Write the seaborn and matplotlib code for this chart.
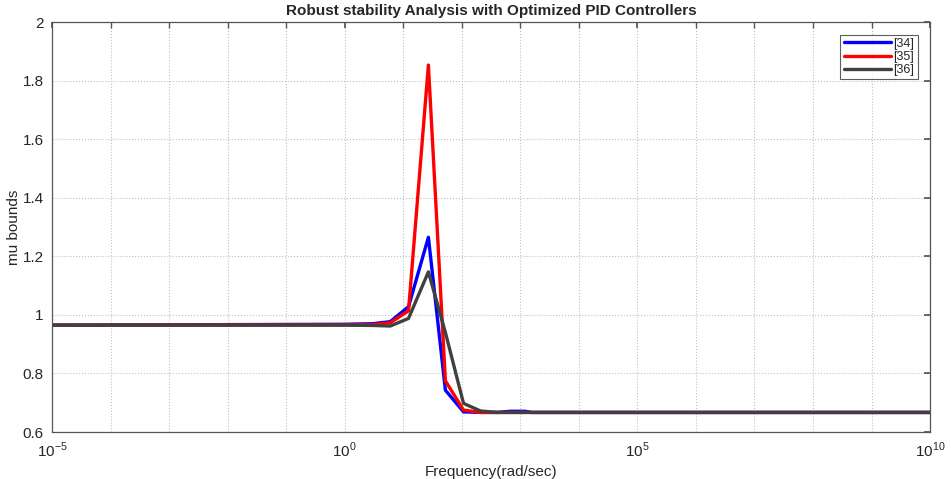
import numpy as np
import pandas as pd
import matplotlib
matplotlib.use('Agg')
import matplotlib.pyplot as plt
import seaborn as sns
from matplotlib.ticker import FixedLocator, NullFormatter

# frequency points (rad/sec)
freq = [1e-5, 1.0, 3.0, 6.0, 12.3, 26.9, 52.5, 107.0, 209.0, 398.0, 676.0, 1200.0, 1585.0, 1e10]

mu_34 = [0.965, 0.968, 0.970, 0.977, 1.028, 1.265, 0.743, 0.669, 0.667, 0.667, 0.671, 0.671, 0.667, 0.667]
mu_35 = [0.965, 0.966, 0.967, 0.973, 1.014, 1.853, 0.775, 0.675, 0.667, 0.667, 0.667, 0.667, 0.667, 0.667]
mu_36 = [0.965, 0.965, 0.964, 0.962, 0.988, 1.147, 0.940, 0.698, 0.672, 0.667, 0.667, 0.667, 0.667, 0.667]

labels = ['[34]', '[35]', '[36]']
colors = ['#0000ff', '#ff0000', '#404040']

df = pd.concat([
    pd.DataFrame({'freq': freq, 'mu': vals, 'ref': lab})
    for lab, vals in zip(labels, [mu_34, mu_35, mu_36])
], ignore_index=True)

sns.set_theme(style='white')
plt.rcParams['font.family'] = ['Liberation Sans', 'DejaVu Sans']
plt.rcParams['mathtext.fontset'] = 'custom'
plt.rcParams['mathtext.rm'] = 'Liberation Sans'

fig = plt.figure(figsize=(9.51, 4.79), dpi=100)
ax = fig.add_axes([0.0547, 0.098, 0.9233, 0.856])

sns.lineplot(data=df, x='freq', y='mu', hue='ref', palette=dict(zip(labels, colors)),
             hue_order=labels, linewidth=2.4, sort=False, ax=ax, estimator=None)

ax.set_xscale('log')
ax.set_xlim(1e-5, 1e10)
ax.set_ylim(0.6, 2.0)

ax.xaxis.set_major_locator(FixedLocator([1e-5, 1e0, 1e5, 1e10]))
ax.xaxis.set_minor_locator(FixedLocator([10.0 ** k for k in range(-5, 11)]))
ax.xaxis.set_minor_formatter(NullFormatter())
ax.set_xticklabels([r'$10^{-5}$', r'$10^{0}$', r'$10^{5}$', r'$10^{10}$'])
ax.set_yticks([0.6, 0.8, 1.0, 1.2, 1.4, 1.6, 1.8, 2.0])
ax.set_yticklabels(['0.6', '0.8', '1', '1.2', '1.4', '1.6', '1.8', '2'])

ax.grid(True, which='both', linestyle=':', color='#c0c0c0', linewidth=0.8)
ax.tick_params(axis='both', which='both', direction='in', top=True, right=True,
               length=4, color='#555555', labelsize=11, pad=6)

for sp in ax.spines.values():
    sp.set_color('#555555')
    sp.set_linewidth(0.9)

ax.set_title('Robust stability Analysis with Optimized PID Controllers',
             fontsize=11, fontweight='bold', pad=5)
ax.set_xlabel('Frequency(rad/sec)', fontsize=11, labelpad=4)
ax.set_ylabel('mu bounds', fontsize=11, labelpad=1)

leg = ax.legend(loc='upper right', fontsize=9, frameon=True, fancybox=False,
                handlelength=3.8, handletextpad=0.2, borderpad=0.25, labelspacing=0.1,
                borderaxespad=1.0)
leg.get_frame().set_edgecolor('#333333')
leg.get_frame().set_linewidth(0.8)
leg.set_title(None)

fig.savefig('out.png', dpi=100)
